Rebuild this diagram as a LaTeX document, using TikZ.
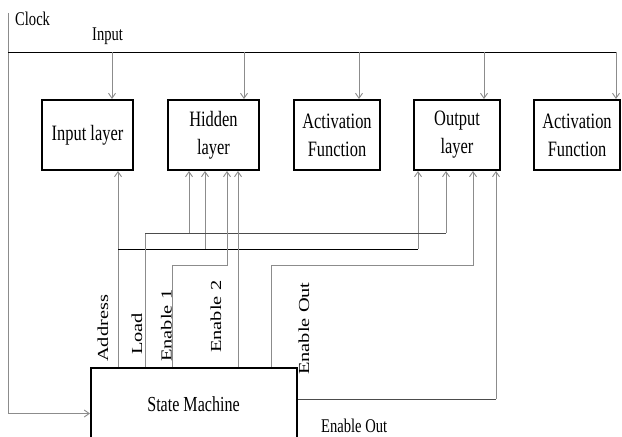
\documentclass[tikz,border=0pt]{standalone}
\usepackage{fontspec}
\setmainfont[FakeStretch=0.75]{Liberation Serif}
\newfontfamily\rotfont{Liberation Serif}
\usetikzlibrary{arrows.meta}
\begin{document}
\begin{tikzpicture}[x=1bp,y=-1bp,
  box/.style={draw, line width=2bp, inner sep=0pt, minimum height=70bp, align=center, font=\fontsize{22}{28}\selectfont},
  wire/.style={draw=black!45, line width=0.9bp},
  dwire/.style={draw=black!70, line width=0.9bp},
  bus/.style={draw=black, line width=0.9bp},
  arr/.style={-{Straight Barb[length=5bp,width=7bp]}},
  lbl/.style={inner sep=0pt, anchor=base west, font=\fontsize{19.5}{22}\selectfont},
  vlbl/.style={inner sep=0pt, rotate=90, anchor=base west, font=\rotfont\fontsize{20.5}{22}\selectfont},
]
\fill[white] (0,0) rectangle (622,437);
\clip (0,0) rectangle (622,437);

% blocks
\node[box, minimum width=91bp] (inl) at (87.5,135) {Input layer};
\node[box, minimum width=91bp] (hid) at (213.5,135) {Hidden\\layer};
\node[box, minimum width=86bp] (act1) at (337,135) {Activation\\Function};
\node[box, minimum width=86bp] (outl) at (457,135) {Output\\layer};
\node[box, minimum width=86bp] (act2) at (577,135) {Activation\\Function};
\node[draw, line width=2bp, inner sep=0pt, minimum width=206bp, minimum height=91bp] (sm) at (194,413.5) {};
\node[inner sep=0pt, anchor=base, font=\fontsize{21.5}{24}\selectfont] (smt) at (193.5,411) {State Machine};

% clock and input bus
\coordinate (clk) at (8,13);
\coordinate (busL) at (8,52);
\coordinate (busR) at (616,52);
\draw[wire,arr] (clk) |- (sm.west);
\draw[bus] (busL) -- (busR);
\coordinate (t1) at (112,52);
\coordinate (t2) at (244,52);
\coordinate (t3) at (359,52);
\coordinate (t4) at (484,52);
\coordinate (t5) at (616,52);
\draw[wire,arr] (t1) -- (t1 |- inl.north);
\draw[wire,arr] (t2) -- (t2 |- hid.north);
\draw[wire,arr] (t3) -- (t3 |- act1.north);
\draw[wire,arr] (t4) -- (t4 |- outl.north);
\draw[wire,arr] (t5) -- (t5 |- act2.north);

% Address
\coordinate (sA) at (118,367);
\coordinate (jA) at (118,249);
\coordinate (jA1) at (205,249);
\coordinate (jA2) at (418,249);
\draw[wire,arr] (sA) -- (sA |- inl.south);
\draw[bus] (jA) -- (jA2);
\draw[wire,arr] (jA1) -- (jA1 |- hid.south);
\draw[wire,arr] (jA2) -- (jA2 |- outl.south);

% Load
\coordinate (sL) at (145,367);
\coordinate (jL) at (145,233);
\coordinate (jL1) at (189,233);
\coordinate (jL2) at (446,233);
\draw[wire] (sL) -- (jL);
\draw[dwire] (jL) -- (jL2);
\draw[wire,arr] (jL1) -- (jL1 |- hid.south);
\draw[wire,arr] (jL2) -- (jL2 |- outl.south);

% Enable 1
\coordinate (sE1) at (172,367);
\coordinate (jE1) at (227,265);
\draw[wire,arr] (sE1) |- (jE1) -- (jE1 |- hid.south);

% Enable 2
\coordinate (sE2) at (238,367);
\draw[wire,arr] (sE2) -- (sE2 |- hid.south);

% Enable Out (top)
\coordinate (sEO) at (271,367);
\coordinate (jEO) at (473,265);
\draw[wire,arr] (sEO) |- (jEO) -- (jEO |- outl.south);

% Enable Out (side)
\coordinate (sEO2) at (298,399);
\coordinate (jEO2) at (496,399);
\draw[dwire] (sEO2) -- (jEO2);
\draw[wire,arr] (jEO2) -- (jEO2 |- outl.south);

% labels
\node[lbl] (clkl) at (15,26) {Clock};
\node[lbl] (inpl) at (92,41) {Input};
\node[lbl] (eol) at (321,432) {Enable Out};
\node[vlbl] (la) at (108,362) {\scalebox{1}[0.75]{Address}};
\node[vlbl] (ll) at (142,355) {\scalebox{1}[0.75]{Load}};
\node[vlbl] (le1) at (171.5,362) {\scalebox{1}[0.75]{Enable 1}};
\node[vlbl] (le2) at (221,353) {\scalebox{1}[0.75]{Enable 2}};
\node[vlbl] (leo) at (309,375) {\scalebox{1}[0.75]{Enable Out}};
\end{tikzpicture}
\end{document}
